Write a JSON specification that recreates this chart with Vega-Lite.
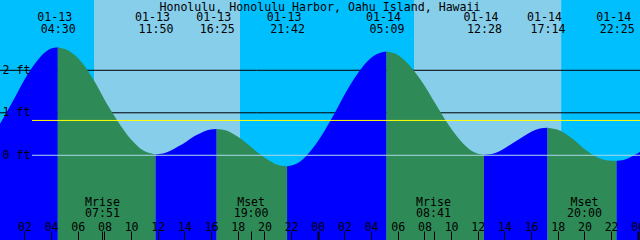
{
  "$schema": "https://vega.github.io/schema/vega-lite/v6.json",
  "width": 640,
  "height": 240,
  "autosize": "none",
  "padding": 0,
  "title": {"text": "Honolulu, Honolulu Harbor, Oahu Island, Hawaii", "font": "DejaVu Sans Mono", "fontSize": 11.6, "fontWeight": "normal", "color": "black", "anchor": "middle", "offset": -22.5, "baseline": "alphabetic"},
  "config": {"view": {"stroke": null}, "font": "DejaVu Sans Mono"},
  "datasets": {
    "light": [
      {"start": "2024-01-13T00:10", "end": "2024-01-13T07:13", "period": "night"},
      {"start": "2024-01-13T07:13", "end": "2024-01-13T18:10", "period": "day"},
      {"start": "2024-01-13T18:10", "end": "2024-01-14T07:13", "period": "night"},
      {"start": "2024-01-14T07:13", "end": "2024-01-14T18:15", "period": "day"},
      {"start": "2024-01-14T18:15", "end": "2024-01-15T00:10", "period": "night"}
    ],
    "grid": [{"ft": 0}, {"ft": 1}, {"ft": 2}],
    "datums": [{"name": "MSL", "ft": 0.82}, {"name": "MLLW", "ft": 0}],
    "tide": [
      {"t": "2024-01-13T00:10", "ft": 0.74, "seg": 0, "dir": "rise"},
      {"t": "2024-01-13T00:30", "ft": 0.92, "seg": 0, "dir": "rise"},
      {"t": "2024-01-13T01:00", "ft": 1.20, "seg": 0, "dir": "rise"},
      {"t": "2024-01-13T01:30", "ft": 1.49, "seg": 0, "dir": "rise"},
      {"t": "2024-01-13T02:00", "ft": 1.78, "seg": 0, "dir": "rise"},
      {"t": "2024-01-13T02:30", "ft": 2.03, "seg": 0, "dir": "rise"},
      {"t": "2024-01-13T03:00", "ft": 2.24, "seg": 0, "dir": "rise"},
      {"t": "2024-01-13T03:30", "ft": 2.41, "seg": 0, "dir": "rise"},
      {"t": "2024-01-13T04:00", "ft": 2.51, "seg": 0, "dir": "rise"},
      {"t": "2024-01-13T04:30", "ft": 2.54, "seg": 0, "dir": "rise"},
      {"t": "2024-01-13T04:30", "ft": 2.54, "seg": 1, "dir": "fall"},
      {"t": "2024-01-13T05:25", "ft": 2.44, "seg": 1, "dir": "fall"},
      {"t": "2024-01-13T06:20", "ft": 2.17, "seg": 1, "dir": "fall"},
      {"t": "2024-01-13T07:15", "ft": 1.74, "seg": 1, "dir": "fall"},
      {"t": "2024-01-13T08:10", "ft": 1.22, "seg": 1, "dir": "fall"},
      {"t": "2024-01-13T09:05", "ft": 0.76, "seg": 1, "dir": "fall"},
      {"t": "2024-01-13T10:00", "ft": 0.37, "seg": 1, "dir": "fall"},
      {"t": "2024-01-13T10:55", "ft": 0.11, "seg": 1, "dir": "fall"},
      {"t": "2024-01-13T11:50", "ft": 0.02, "seg": 1, "dir": "fall"},
      {"t": "2024-01-13T11:50", "ft": 0.02, "seg": 2, "dir": "rise"},
      {"t": "2024-01-13T12:24", "ft": 0.04, "seg": 2, "dir": "rise"},
      {"t": "2024-01-13T12:59", "ft": 0.11, "seg": 2, "dir": "rise"},
      {"t": "2024-01-13T13:33", "ft": 0.21, "seg": 2, "dir": "rise"},
      {"t": "2024-01-13T14:08", "ft": 0.32, "seg": 2, "dir": "rise"},
      {"t": "2024-01-13T14:42", "ft": 0.44, "seg": 2, "dir": "rise"},
      {"t": "2024-01-13T15:16", "ft": 0.53, "seg": 2, "dir": "rise"},
      {"t": "2024-01-13T15:51", "ft": 0.60, "seg": 2, "dir": "rise"},
      {"t": "2024-01-13T16:25", "ft": 0.62, "seg": 2, "dir": "rise"},
      {"t": "2024-01-13T16:25", "ft": 0.62, "seg": 3, "dir": "fall"},
      {"t": "2024-01-13T17:05", "ft": 0.59, "seg": 3, "dir": "fall"},
      {"t": "2024-01-13T17:44", "ft": 0.49, "seg": 3, "dir": "fall"},
      {"t": "2024-01-13T18:24", "ft": 0.35, "seg": 3, "dir": "fall"},
      {"t": "2024-01-13T19:04", "ft": 0.18, "seg": 3, "dir": "fall"},
      {"t": "2024-01-13T19:43", "ft": 0.01, "seg": 3, "dir": "fall"},
      {"t": "2024-01-13T20:23", "ft": -0.13, "seg": 3, "dir": "fall"},
      {"t": "2024-01-13T21:02", "ft": -0.23, "seg": 3, "dir": "fall"},
      {"t": "2024-01-13T21:42", "ft": -0.26, "seg": 3, "dir": "fall"},
      {"t": "2024-01-13T21:42", "ft": -0.26, "seg": 4, "dir": "rise"},
      {"t": "2024-01-13T22:38", "ft": -0.16, "seg": 4, "dir": "rise"},
      {"t": "2024-01-13T23:34", "ft": 0.14, "seg": 4, "dir": "rise"},
      {"t": "2024-01-14T00:30", "ft": 0.57, "seg": 4, "dir": "rise"},
      {"t": "2024-01-14T01:26", "ft": 1.09, "seg": 4, "dir": "rise"},
      {"t": "2024-01-14T02:21", "ft": 1.61, "seg": 4, "dir": "rise"},
      {"t": "2024-01-14T03:17", "ft": 2.05, "seg": 4, "dir": "rise"},
      {"t": "2024-01-14T04:13", "ft": 2.34, "seg": 4, "dir": "rise"},
      {"t": "2024-01-14T05:09", "ft": 2.44, "seg": 4, "dir": "rise"},
      {"t": "2024-01-14T05:09", "ft": 2.44, "seg": 5, "dir": "fall"},
      {"t": "2024-01-14T06:04", "ft": 2.35, "seg": 5, "dir": "fall"},
      {"t": "2024-01-14T06:59", "ft": 2.08, "seg": 5, "dir": "fall"},
      {"t": "2024-01-14T07:54", "ft": 1.69, "seg": 5, "dir": "fall"},
      {"t": "2024-01-14T08:49", "ft": 1.22, "seg": 5, "dir": "fall"},
      {"t": "2024-01-14T09:43", "ft": 0.76, "seg": 5, "dir": "fall"},
      {"t": "2024-01-14T10:38", "ft": 0.37, "seg": 5, "dir": "fall"},
      {"t": "2024-01-14T11:33", "ft": 0.10, "seg": 5, "dir": "fall"},
      {"t": "2024-01-14T12:28", "ft": 0.01, "seg": 5, "dir": "fall"},
      {"t": "2024-01-14T12:28", "ft": 0.01, "seg": 6, "dir": "rise"},
      {"t": "2024-01-14T13:04", "ft": 0.03, "seg": 6, "dir": "rise"},
      {"t": "2024-01-14T13:40", "ft": 0.10, "seg": 6, "dir": "rise"},
      {"t": "2024-01-14T14:15", "ft": 0.21, "seg": 6, "dir": "rise"},
      {"t": "2024-01-14T14:51", "ft": 0.33, "seg": 6, "dir": "rise"},
      {"t": "2024-01-14T15:27", "ft": 0.45, "seg": 6, "dir": "rise"},
      {"t": "2024-01-14T16:03", "ft": 0.56, "seg": 6, "dir": "rise"},
      {"t": "2024-01-14T16:39", "ft": 0.63, "seg": 6, "dir": "rise"},
      {"t": "2024-01-14T17:14", "ft": 0.65, "seg": 6, "dir": "rise"},
      {"t": "2024-01-14T17:14", "ft": 0.65, "seg": 7, "dir": "fall"},
      {"t": "2024-01-14T17:53", "ft": 0.61, "seg": 7, "dir": "fall"},
      {"t": "2024-01-14T18:32", "ft": 0.52, "seg": 7, "dir": "fall"},
      {"t": "2024-01-14T19:11", "ft": 0.37, "seg": 7, "dir": "fall"},
      {"t": "2024-01-14T19:50", "ft": 0.19, "seg": 7, "dir": "fall"},
      {"t": "2024-01-14T20:28", "ft": 0.04, "seg": 7, "dir": "fall"},
      {"t": "2024-01-14T21:07", "ft": -0.07, "seg": 7, "dir": "fall"},
      {"t": "2024-01-14T21:46", "ft": -0.12, "seg": 7, "dir": "fall"},
      {"t": "2024-01-14T22:25", "ft": -0.13, "seg": 7, "dir": "fall"},
      {"t": "2024-01-14T22:25", "ft": -0.13, "seg": 8, "dir": "rise"},
      {"t": "2024-01-14T22:55", "ft": -0.11, "seg": 8, "dir": "rise"},
      {"t": "2024-01-14T23:25", "ft": -0.05, "seg": 8, "dir": "rise"},
      {"t": "2024-01-14T23:48", "ft": 0.01, "seg": 8, "dir": "rise"},
      {"t": "2024-01-15T00:10", "ft": 0.085, "seg": 8, "dir": "rise"}
    ],
    "extremes": [
      {"t": "2024-01-13T04:30", "ft": 2.54, "type": "high"},
      {"t": "2024-01-13T11:50", "ft": 0.02, "type": "low"},
      {"t": "2024-01-13T16:25", "ft": 0.62, "type": "high"},
      {"t": "2024-01-13T21:42", "ft": -0.26, "type": "low"},
      {"t": "2024-01-14T05:09", "ft": 2.44, "type": "high"},
      {"t": "2024-01-14T12:28", "ft": 0.01, "type": "low"},
      {"t": "2024-01-14T17:14", "ft": 0.65, "type": "high"},
      {"t": "2024-01-14T22:25", "ft": -0.13, "type": "low"}
    ],
    "moon": [
      {"t": "2024-01-13T07:51", "event": "Mrise"},
      {"t": "2024-01-13T19:00", "event": "Mset"},
      {"t": "2024-01-14T08:41", "event": "Mrise"},
      {"t": "2024-01-14T20:00", "event": "Mset"}
    ]
  },
  "resolve": {"scale": {"color": "independent"}},
  "layer": [
    {
      "data": {"name": "light"},
      "mark": {"type": "rect"},
      "encoding": {
        "x": {"field": "start", "type": "temporal",
              "scale": {"domain": [{"year": 2024, "month": 1, "date": 13, "hours": 0, "minutes": 10}, {"year": 2024, "month": 1, "date": 15, "hours": 0, "minutes": 10}], "nice": false},
              "axis": {"orient": "bottom", "offset": -9, "title": null, "domain": false, "grid": false,
                       "tickSize": 9, "tickColor": "black", "tickCount": 200,
                       "tickWidth": {"condition": {"test": "hours(datum.value) == 0 && minutes(datum.value) == 0", "value": 2}, "value": 1},
                       "values": [
                         {"year": 2024, "month": 1, "date": 13, "hours": 0},
                         {"year": 2024, "month": 1, "date": 13, "hours": 2},
                         {"year": 2024, "month": 1, "date": 13, "hours": 4},
                         {"year": 2024, "month": 1, "date": 13, "hours": 6},
                         {"year": 2024, "month": 1, "date": 13, "hours": 7, "minutes": 51},
                         {"year": 2024, "month": 1, "date": 13, "hours": 8},
                         {"year": 2024, "month": 1, "date": 13, "hours": 10},
                         {"year": 2024, "month": 1, "date": 13, "hours": 12},
                         {"year": 2024, "month": 1, "date": 13, "hours": 14},
                         {"year": 2024, "month": 1, "date": 13, "hours": 16},
                         {"year": 2024, "month": 1, "date": 13, "hours": 18},
                         {"year": 2024, "month": 1, "date": 13, "hours": 19, "minutes": 0, "seconds": 1},
                         {"year": 2024, "month": 1, "date": 13, "hours": 20},
                         {"year": 2024, "month": 1, "date": 13, "hours": 22},
                         {"year": 2024, "month": 1, "date": 14, "hours": 0},
                         {"year": 2024, "month": 1, "date": 14, "hours": 2},
                         {"year": 2024, "month": 1, "date": 14, "hours": 4},
                         {"year": 2024, "month": 1, "date": 14, "hours": 6},
                         {"year": 2024, "month": 1, "date": 14, "hours": 8},
                         {"year": 2024, "month": 1, "date": 14, "hours": 8, "minutes": 41},
                         {"year": 2024, "month": 1, "date": 14, "hours": 10},
                         {"year": 2024, "month": 1, "date": 14, "hours": 12},
                         {"year": 2024, "month": 1, "date": 14, "hours": 14},
                         {"year": 2024, "month": 1, "date": 14, "hours": 16},
                         {"year": 2024, "month": 1, "date": 14, "hours": 18},
                         {"year": 2024, "month": 1, "date": 14, "hours": 20},
                         {"year": 2024, "month": 1, "date": 14, "hours": 22},
                         {"year": 2024, "month": 1, "date": 15, "hours": 0}
                       ],
                       "labelExpr": "minutes(datum.value) == 0 && seconds(datum.value) == 0 && hours(datum.value) % 2 == 0 ? timeFormat(datum.value, '%H') : ''",
                       "labelPadding": -10, "labelBaseline": "alphabetic", "labelFont": "DejaVu Sans Mono", "labelFontSize": 11.6,
                       "labelColor": "black", "labelOverlap": false, "labelFlush": false, "labelBound": false, "zindex": 2}},
        "x2": {"field": "end"},
        "color": {"field": "period", "type": "nominal", "legend": null,
                  "scale": {"domain": ["night", "day"], "range": ["#00bfff", "#87ceeb"]}}
      }
    },
    {
      "data": {"name": "grid"},
      "mark": {"type": "rule", "color": "black", "strokeWidth": 1},
      "transform": [{"filter": "datum.ft > 0"}],
      "encoding": {
        "y": {"field": "ft", "type": "quantitative",
              "scale": {"domain": [-1.993, 3.654], "nice": false, "zero": false},
              "axis": {"orient": "left", "values": [0, 1, 2], "labelExpr": "datum.value + ' ft'", "title": null,
                       "grid": false, "ticks": false, "domain": false, "labelAlign": "left", "labelPadding": -2,
                       "labelBaseline": "middle", "labelFont": "DejaVu Sans Mono", "labelFontSize": 11.6, "labelColor": "black",
                       "labelOverlap": false, "tickCount": 50, "zindex": 2}}
      }
    },
    {
      "data": {"name": "tide"},
      "mark": {"type": "area", "interpolate": "monotone"},
      "encoding": {
        "x": {"field": "t", "type": "temporal"},
        "y": {"field": "ft", "type": "quantitative", "stack": null},
        "y2": {"datum": -1.993},
        "detail": {"field": "seg", "type": "nominal"},
        "color": {"field": "dir", "type": "nominal", "legend": null,
                  "scale": {"domain": ["rise", "fall"], "range": ["#0000ff", "#2e8b57"]}}
      }
    },
    {
      "data": {"name": "datums"},
      "mark": {"type": "rule", "strokeWidth": 1},
      "encoding": {
        "y": {"field": "ft", "type": "quantitative"},
        "x": {"datum": {"year": 2024, "month": 1, "date": 13, "hours": 2, "minutes": 34}, "type": "temporal"},
        "x2": {"datum": {"year": 2024, "month": 1, "date": 15, "hours": 0, "minutes": 10}},
        "color": {"field": "name", "type": "nominal", "legend": null,
                  "scale": {"domain": ["MSL", "MLLW"], "range": ["#ffff00", "#add8e6"]}}
      }
    },
    {
      "data": {"name": "extremes"},
      "mark": {"type": "text", "font": "DejaVu Sans Mono", "fontSize": 11.6, "color": "black", "baseline": "alphabetic", "align": "center", "dx": -3},
      "encoding": {
        "x": {"field": "t", "type": "temporal"},
        "y": {"datum": 3.153},
        "text": {"field": "t", "type": "temporal", "format": "%m-%d"}
      }
    },
    {
      "data": {"name": "extremes"},
      "mark": {"type": "text", "font": "DejaVu Sans Mono", "fontSize": 11.6, "color": "black", "baseline": "alphabetic", "align": "center", "dx": 0.5},
      "encoding": {
        "x": {"field": "t", "type": "temporal"},
        "y": {"datum": 2.871},
        "text": {"field": "t", "type": "temporal", "format": "%H:%M"}
      }
    },
    {
      "data": {"name": "moon"},
      "mark": {"type": "text", "font": "DejaVu Sans Mono", "fontSize": 11.6, "color": "black", "baseline": "alphabetic", "align": "center"},
      "encoding": {
        "x": {"field": "t", "type": "temporal"},
        "y": {"datum": -1.186},
        "text": {"field": "event", "type": "nominal"}
      }
    },
    {
      "data": {"name": "moon"},
      "mark": {"type": "text", "font": "DejaVu Sans Mono", "fontSize": 11.6, "color": "black", "baseline": "alphabetic", "align": "center"},
      "encoding": {
        "x": {"field": "t", "type": "temporal"},
        "y": {"datum": -1.459},
        "text": {"field": "t", "type": "temporal", "format": "%H:%M"}
      }
    }
  ]
}
